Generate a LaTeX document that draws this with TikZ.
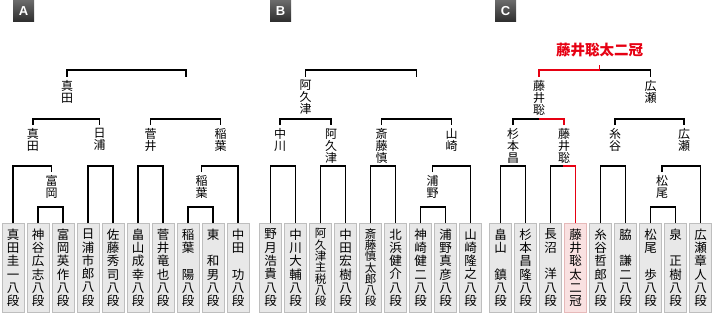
\documentclass[tikz,border=0pt]{standalone}
\usepackage{fontspec}
\setmainfont{Noto Sans CJK JP}
\newfontfamily\badgefont{Liberation Sans}
\definecolor{boxFill}{HTML}{E8E8E8}
\definecolor{boxLine}{HTML}{BEBEBE}
\definecolor{winFill}{HTML}{F9E1E1}
\definecolor{winLine}{HTML}{E6B9B9}
\definecolor{winRed}{HTML}{E60012}
\definecolor{badgeTop}{HTML}{6A6A6A}
\definecolor{badgeBottom}{HTML}{2E2E2E}
\usepackage{tikz}
\usetikzlibrary{positioning}
\newcommand{\tate}[1]{\vbox{\lineskiplimit=-\maxdimen\expandafter\tateloop#1\relax}}
\newcommand{\tateloop}[1]{\ifx\relax#1\else\hbox to 1em{\hss\rule[-.12em]{0pt}{.88em}#1\hss}\expandafter\tateloop\fi}

\begin{document}
\begin{tikzpicture}[x=1pt, y=-1pt,
    player/.style={draw=boxLine, fill=boxFill, line width=0.8pt, minimum width=22pt,
      minimum height=89pt, inner sep=0pt, anchor=north, font=\fontsize{12.5}{13.3}\selectfont},
    longname/.style={font=\fontsize{11.5}{11.3}\selectfont},
    champ/.style={player, draw=winLine, fill=winFill},
    lbl/.style={anchor=north, inner xsep=0pt, inner ysep=3.5pt, font=\fontsize{12}{12}\selectfont},
    bracket/.style={line width=1.2pt, black},
    winpath/.style={line width=1.2pt, winRed},
    badge/.style={minimum size=21pt, inner sep=0pt, top color=badgeTop, bottom color=badgeBottom,
      text=white, font=\badgefont\bfseries\fontsize{13}{13}\selectfont},
    title/.style={anchor=south, inner ysep=8pt, text=winRed, font=\bfseries\fontsize{14.5}{14.5}\selectfont}]
  \useasboundingbox (0,0) rectangle (716,319);

  % block A
  \node[badge] (bA) at (23.5,11) {A};
  \node[player] (pA1) at (13,223) {\tate{真田圭一八段}};
  \node[player] (pA2) at (38,223) {\tate{神谷広志八段}};
  \node[player] (pA3) at (63,223) {\tate{富岡英作八段}};
  \node[player] (pA4) at (88,223) {\tate{日浦市郎八段}};
  \node[player] (pA5) at (113,223) {\tate{佐藤秀司八段}};
  \node[player] (pA6) at (138,223) {\tate{畠山成幸八段}};
  \node[player] (pA7) at (163,223) {\tate{菅井竜也八段}};
  \node[player] (pA8) at (188,223) {\tate{稲葉　陽八段}};
  \node[player] (pA9) at (213,223) {\tate{東　和男八段}};
  \node[player] (pA10) at (238,223) {\tate{中田　功八段}};
  \node[lbl] (lA4a) at (51.5,172) {\tate{富岡}};
  \node[lbl] (lA4b) at (201.5,172) {\tate{稲葉}};
  \node[lbl] (lA3a) at (33,125) {\tate{真田}};
  \node[lbl] (lA3b) at (99.5,125) {\tate{日浦}};
  \node[lbl] (lA3c) at (150.5,125) {\tate{菅井}};
  \node[lbl] (lA3d) at (220.5,125) {\tate{稲葉}};
  \node[lbl] (lA2a) at (67,76.5) {\tate{真田}};
  \coordinate (lA2b) at (186,76.5);
  \draw[bracket] (pA2.north) -- ++(0,-16) -| (pA3.north);
  \draw[bracket] (pA8.north) -- ++(0,-16) -| (pA9.north);
  \draw[bracket] (pA1.north) -- ++(0,-57) -| (lA4a.north);
  \draw[bracket] (pA4.north) -- ++(0,-57) -| (pA5.north);
  \draw[bracket] (pA6.north) -- ++(0,-57) -| (pA7.north);
  \draw[bracket] (lA4b.north) -- ++(0,-6) -| (pA10.north);
  \draw[bracket] (lA3a.north) -- ++(0,-6) -| (lA3b.north);
  \draw[bracket] (lA3c.north) -- ++(0,-6) -| (lA3d.north);
  \draw[bracket] (lA2a.north) -- ++(0,-6.5) -| (lA2b);

  % block B
  \node[badge] (bB) at (280.5,11) {B};
  \node[player] (pB1) at (270.5,223) {\tate{野月浩貴八段}};
  \node[player] (pB2) at (295.5,223) {\tate{中川大輔八段}};
  \node[player, longname] (pB3) at (320.5,223) {\tate{阿久津主税八段}};
  \node[player] (pB4) at (345.5,223) {\tate{中田宏樹八段}};
  \node[player, longname] (pB5) at (370.5,223) {\tate{斎藤慎太郎八段}};
  \node[player] (pB6) at (395.5,223) {\tate{北浜健介八段}};
  \node[player] (pB7) at (420.5,223) {\tate{神崎健二八段}};
  \node[player] (pB8) at (445.5,223) {\tate{浦野真彦八段}};
  \node[player] (pB9) at (470.5,223) {\tate{山崎隆之八段}};
  \node[lbl] (lB4) at (432.5,172) {\tate{浦野}};
  \node[lbl] (lB3a) at (280,125) {\tate{中川}};
  \node[lbl] (lB3b) at (331,125) {\tate{阿久津}};
  \node[lbl] (lB3c) at (381.5,125) {\tate{斎藤慎}};
  \node[lbl] (lB3d) at (451.5,125) {\tate{山崎}};
  \node[lbl] (lB2a) at (305.5,76.5) {\tate{阿久津}};
  \coordinate (lB2b) at (416.5,76.5);
  \draw[bracket] (pB7.north) -- ++(0,-16) -| (pB8.north);
  \draw[bracket] (pB1.north) -- ++(0,-57) -| (pB2.north);
  \draw[bracket] (pB3.north) -- ++(0,-57) -| (pB4.north);
  \draw[bracket] (pB5.north) -- ++(0,-57) -| (pB6.north);
  \draw[bracket] (lB4.north) -- ++(0,-6) -| (pB9.north);
  \draw[bracket] (lB3a.north) -- ++(0,-6) -| (lB3b.north);
  \draw[bracket] (lB3c.north) -- ++(0,-6) -| (lB3d.north);
  \draw[bracket] (lB2a.north) -- ++(0,-6.5) -| (lB2b);

  % block C
  \node[badge] (bC) at (505.5,11) {C};
  \node[player] (pC1) at (500.5,223) {\tate{畠山　鎮八段}};
  \node[player] (pC2) at (525.5,223) {\tate{杉本昌隆八段}};
  \node[player] (pC3) at (550.5,223) {\tate{長沼　洋八段}};
  \node[champ] (pC4) at (575.5,223) {\tate{藤井聡太二冠}};
  \node[player] (pC5) at (600.5,223) {\tate{糸谷哲郎八段}};
  \node[player] (pC6) at (625.5,223) {\tate{脇　謙二八段}};
  \node[player] (pC7) at (650.5,223) {\tate{松尾　歩八段}};
  \node[player] (pC8) at (675.5,223) {\tate{泉　正樹八段}};
  \node[player] (pC9) at (700.5,223) {\tate{広瀬章人八段}};
  \node[lbl] (lC4) at (662,172) {\tate{松尾}};
  \node[lbl] (lC3a) at (513,125) {\tate{杉本昌}};
  \node[lbl] (lC3b) at (564,125) {\tate{藤井聡}};
  \node[lbl] (lC3c) at (615,125) {\tate{糸谷}};
  \node[lbl] (lC3d) at (684,125) {\tate{広瀬}};
  \node[lbl] (lC2a) at (539,76.5) {\tate{藤井聡}};
  \node[lbl] (lC2b) at (650.5,76.5) {\tate{広瀬}};
  \node[title] (title) at (599.5,65) {藤井聡太二冠};
  \draw[bracket] (pC7.north) -- ++(0,-16) -| (pC8.north);
  \draw[bracket] (pC1.north) -- ++(0,-57) -| (pC2.north);
  \draw[bracket] (pC3.north) -- ++(0,-57) -| (pC4.north);
  \draw[bracket] (pC5.north) -- ++(0,-57) -| (pC6.north);
  \draw[bracket] (lC4.north) -- ++(0,-6) -| (pC9.north);
  \draw[bracket] (lC3a.north) -- ++(0,-6) -| (lC3b.north);
  \draw[bracket] (lC3c.north) -- ++(0,-6) -| (lC3d.north);
  \draw[bracket] (lC2a.north) -- ++(0,-6.5) -| (lC2b.north);
  % path of the title holder
  \draw[winpath] (pC4.north) -- ++(0,-57) -- ++(-12.5,0);
  \draw[winpath] (lC3b.north) -- ++(0,-6) -- ++(-25,0);
  \draw[winpath] (lC2a.north) -- ++(0,-6.5) -| (title.south);
\end{tikzpicture}
\end{document}
